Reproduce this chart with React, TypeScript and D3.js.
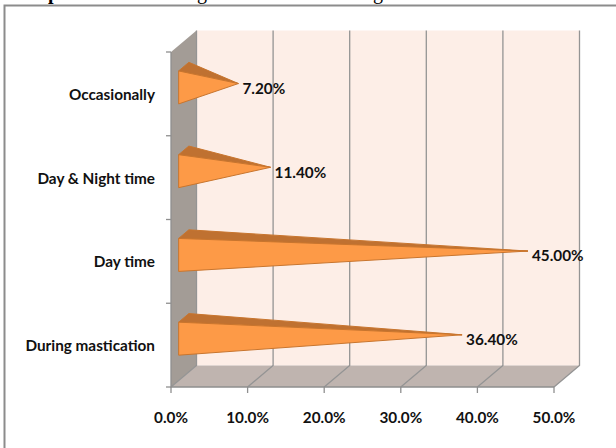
import React from "react";
import * as d3 from "d3";

const categories = ["During mastication", "Day time", "Day & Night time", "Occasionally"];
const values = [36.4, 45.0, 11.4, 7.2];
const valueLabels = ["36.40%", "45.00%", "11.40%", "7.20%"];
const xTicks = [0, 10, 20, 30, 40, 50];

const W = 616;
const H = 448;
const x0 = 171;
const x1 = 554;
const yTop = 52;
const yBottom = 387;
const depthX = 25.5;
const depthY = 21.5;
const halfBar = 16.5;

const FONT = "Lato, Carlito, sans-serif";
const FONT_SIZE = 15.3;

export default function App() {
  const x = d3.scaleLinear().domain([0, 50]).range([x0, x1]);
  const yBand = d3.scaleBand<string>().domain(categories).range([yBottom, yTop]);
  const poly = (pts: [number, number][]) => d3.line()(pts) + "Z";

  return (
    <svg
      width={W}
      height={H}
      viewBox={`0 0 ${W} ${H}`}
      style={{ position: "absolute", left: 0, top: 0, background: "#fff" }}
    >
      {/* clipped lines of the page text above the frame */}
      <g fontFamily="Liberation Serif, serif" fontSize={20} fontWeight="bold" fill="#000">
        <text x={48} y={-1}>p</text>
        <text x={197} y={-1} fontWeight="normal">g</text>
        <text x={373} y={-1} fontWeight="normal">g</text>
      </g>
      <path d={`M4.5,${H}V5.5H${W}`} fill="none" stroke="#8c8c8c" strokeWidth={2} />

      {/* walls */}
      <path
        d={poly([
          [x0 + depthX, yTop - depthY],
          [x1 + depthX, yTop - depthY],
          [x1 + depthX, yBottom - depthY],
          [x0 + depthX, yBottom - depthY],
        ])}
        fill="#fdeee7"
      />
      <path
        d={poly([
          [x0, yTop],
          [x0 + depthX, yTop - depthY],
          [x0 + depthX, yBottom - depthY],
          [x0, yBottom],
        ])}
        fill="#a39c96"
      />
      <path
        d={poly([
          [x0, yBottom],
          [x1, yBottom],
          [x1 + depthX, yBottom - depthY],
          [x0 + depthX, yBottom - depthY],
        ])}
        fill="#bfb4af"
      />

      {/* gridlines */}
      {xTicks.map((t) => (
        <path
          key={t}
          d={`M${x(t)},${yBottom}L${x(t) + depthX},${yBottom - depthY}V${yTop - depthY}`}
          fill="none"
          stroke="#949494"
          strokeWidth={1.3}
        />
      ))}

      {/* axes */}
      <path d={`M${x0},${yTop}V${yBottom}H${x1}`} fill="none" stroke="#8f8f8f" strokeWidth={1.3} />
      {xTicks.map((t) => (
        <line key={t} x1={x(t)} x2={x(t)} y1={yBottom} y2={yBottom + 6} stroke="#8f8f8f" strokeWidth={1.3} />
      ))}
      {d3.range(categories.length + 1).map((i) => {
        const y = yBottom - (i * (yBottom - yTop)) / categories.length;
        return <line key={i} x1={x0 - 5} x2={x0} y1={y} y2={y} stroke="#8f8f8f" strokeWidth={1.3} />;
      })}

      {/* cones */}
      {categories.map((c, i) => {
        const cy = yBand(c)! + yBand.bandwidth() / 2;
        const fx = x0 + depthX * 0.3;
        const fy = cy - depthY * 0.3;
        const bx = x0 + depthX * 0.7;
        const by = cy - depthY * 0.7;
        const tip: [number, number] = [x(values[i]) + depthX * 0.48, cy - depthY * 0.48];
        return (
          <g key={c} stroke="#c8752e" strokeWidth={1} strokeLinejoin="round">
            <path
              d={poly([
                [fx, fy - halfBar],
                [bx, by - halfBar],
                tip,
              ])}
              fill="#bf7131"
            />
            <path
              d={poly([
                [fx, fy - halfBar],
                [fx, fy + halfBar],
                tip,
              ])}
              fill="#fd9a47"
            />
          </g>
        );
      })}

      {/* category labels */}
      {categories.map((c) => (
        <text
          key={c}
          x={155}
          y={yBand(c)! + yBand.bandwidth() / 2 + 6}
          textAnchor="end"
          fontFamily={FONT}
          fontSize={FONT_SIZE}
          fontWeight={700}
          fill="#111"
        >
          {c}
        </text>
      ))}

      {/* value labels */}
      {categories.map((c, i) => {
        const cy = yBand(c)! + yBand.bandwidth() / 2;
        return (
          <text
            key={c}
            x={x(values[i]) + depthX * 0.48 + 4}
            y={cy}
            fontFamily={FONT}
            fontSize={FONT_SIZE}
            fontWeight={700}
            fill="#111"
          >
            {valueLabels[i]}
          </text>
        );
      })}

      {/* x tick labels */}
      {xTicks.map((t) => (
        <text
          key={t}
          x={x(t)}
          y={423}
          textAnchor="middle"
          fontFamily={FONT}
          fontSize={FONT_SIZE}
          fontWeight={700}
          fill="#111"
        >
          {t.toFixed(1)}%
        </text>
      ))}
    </svg>
  );
}
